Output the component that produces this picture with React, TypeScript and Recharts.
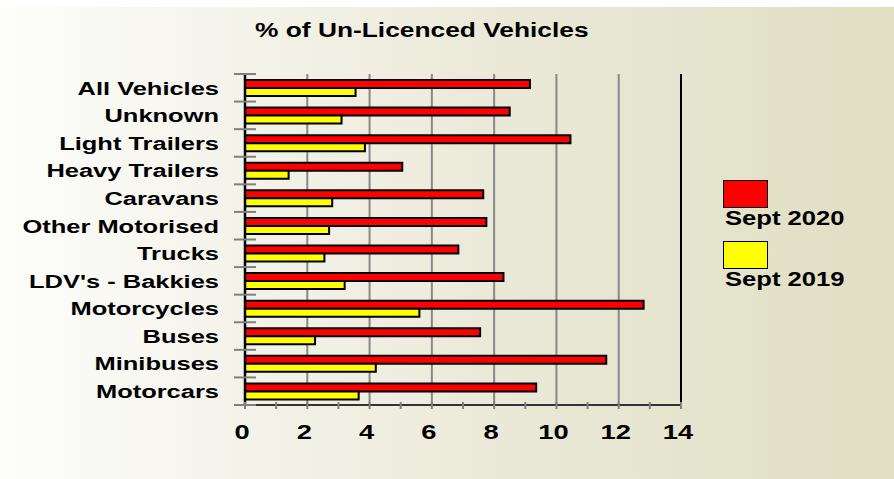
import {
    BarChart,
    Bar,
    XAxis,
    YAxis,
    CartesianGrid,
    ReferenceLine,
    Legend,
} from 'recharts';

const categories = [
    'All Vehicles',
    'Unknown',
    'Light Trailers',
    'Heavy Trailers',
    'Caravans',
    'Other Motorised',
    'Trucks',
    "LDV's - Bakkies",
    'Motorcycles',
    'Buses',
    'Minibuses',
    'Motorcars',
];
const seriesNames = ['Sept 2020', 'Sept 2019'];
const sept2020 = [9.15, 8.5, 10.45, 5.05, 7.65, 7.75, 6.85, 8.3, 12.8, 7.55, 11.6, 9.35];
const sept2019 = [3.55, 3.1, 3.85, 1.4, 2.8, 2.7, 2.55, 3.2, 5.6, 2.25, 4.2, 3.65];
const xTicks = [0, 1, 2, 3, 4, 5, 6, 7, 8, 9, 10, 11, 12, 13, 14];
const gridValues = [2, 4, 6, 8, 10, 12];

const data = categories.map((name, i) => ({
    name,
    sept2020: sept2020[i],
    sept2019: sept2019[i],
}));

const FONT = '"Liberation Sans", Arial, sans-serif';
const LABEL_GAP = 26;

// label plus the gray tick marks that sit on the band boundaries
const CategoryTick = (props: any) => {
    const { x, y, payload, index } = props;
    const half = payload.offset || 0;
    const ax = x + LABEL_GAP;
    return (
        <g>
            <line x1={ax - 11} x2={ax + 11} y1={y - half} y2={y - half} stroke="#808080" strokeWidth={2} />
            {index === categories.length - 1 && (
                <line x1={ax - 11} x2={ax + 11} y1={y + half} y2={y + half} stroke="#808080" strokeWidth={2} />
            )}
            <g transform={`translate(${x},${y}) scale(1.34,1)`}>
                <text x={0} y={0} dy="0.36em" textAnchor="end" fontFamily={FONT} fontWeight="bold" fontSize={19} fill="#000">
                    {payload.value}
                </text>
            </g>
        </g>
    );
};

const ValueTick = (props: any) => {
    const { x, y, payload } = props;
    const even = payload.value % 2 === 0;
    return (
        <g>
            <line x1={x} x2={x} y1={y - 3} y2={y + 4} stroke="#808080" strokeWidth={2} />
            {even && (
                <g transform={`translate(${x - 3},${y + 34}) scale(1.3,1)`}>
                    <text x={0} y={0} textAnchor="middle" fontFamily={FONT} fontWeight="bold" fontSize={21} fill="#000">
                        {payload.value}
                    </text>
                </g>
            )}
        </g>
    );
};

const renderLegend = (props: any) => {
    const payload = [...(props.payload || [])].sort(
        (a: any, b: any) => seriesNames.indexOf(a.value) - seriesNames.indexOf(b.value)
    );
    return (
        <div>
            {payload.map((entry: any) => (
                <div key={entry.value} style={{ height: 61, position: 'relative' }}>
                    <div
                        style={{
                            width: 43,
                            height: 26,
                            background: entry.color,
                            border: '1.5px solid #000',
                        }}
                    />
                    <div
                        style={{
                            position: 'absolute',
                            left: 2,
                            top: 27,
                            fontFamily: FONT,
                            fontWeight: 'bold',
                            fontSize: 20,
                            whiteSpace: 'nowrap',
                            transform: 'scaleX(1.28)',
                            transformOrigin: 'left top',
                        }}
                    >
                        {entry.value}
                    </div>
                </div>
            ))}
        </div>
    );
};

export default function App() {
    return (
        <div
            style={{
                position: 'absolute',
                left: 0,
                top: 0,
                width: 894,
                height: 479,
                background: 'linear-gradient(to right, #fdfdfb 0%, #f3f2e8 30%, #e9e8d6 60%, #e0dfc3 100%)',
                overflow: 'hidden',
            }}
        >
            <div style={{ position: 'absolute', left: 0, top: 0, width: 894, height: 7, background: '#ffffff' }} />
            <div
                style={{
                    position: 'absolute',
                    left: 255,
                    top: 19,
                    fontFamily: FONT,
                    fontWeight: 'bold',
                    fontSize: 19.5,
                    whiteSpace: 'nowrap',
                    transform: 'scaleX(1.35)',
                    transformOrigin: 'left top',
                }}
            >
                % of Un-Licenced Vehicles
            </div>
            <BarChart
                width={894}
                height={479}
                data={data}
                layout="vertical"
                margin={{ top: 74, right: 213, bottom: 24, left: 20 }}
                barSize={8}
                barGap={0}
                style={{ position: 'absolute', left: 0, top: 0 }}
            >
                <CartesianGrid horizontal={false} verticalValues={gridValues} stroke="#888888" strokeWidth={2} />
                <XAxis
                    type="number"
                    domain={[0, 14]}
                    ticks={xTicks}
                    interval={0}
                    height={50}
                    tickSize={0}
                    tickMargin={0}
                    tick={<ValueTick />}
                    axisLine={{ stroke: '#333333', strokeWidth: 2 }}
                />
                <XAxis
                    xAxisId="top"
                    orientation="top"
                    type="number"
                    domain={[0, 14]}
                    height={0}
                    tick={false}
                    tickLine={false}
                    axisLine={{ stroke: '#555555', strokeWidth: 2 }}
                />
                <YAxis
                    type="category"
                    dataKey="name"
                    width={225}
                    tickSize={0}
                    tickMargin={LABEL_GAP}
                    interval={0}
                    tick={<CategoryTick />}
                    axisLine={{ stroke: '#000000', strokeWidth: 2.5 }}
                />
                <ReferenceLine x={14} stroke="#000000" strokeWidth={2} />
                <Legend
                    layout="horizontal"
                    align="center"
                    verticalAlign="middle"
                    content={renderLegend}
                    wrapperStyle={{ left: 723, top: 180, width: 140 }}
                />
                <Bar
                    dataKey="sept2020"
                    name="Sept 2020"
                    fill="#ff0000"
                    stroke="#000000"
                    strokeWidth={2}
                    isAnimationActive={false}
                />
                <Bar
                    dataKey="sept2019"
                    name="Sept 2019"
                    fill="#ffff00"
                    stroke="#000000"
                    strokeWidth={2}
                    isAnimationActive={false}
                />
            </BarChart>
        </div>
    );
}
